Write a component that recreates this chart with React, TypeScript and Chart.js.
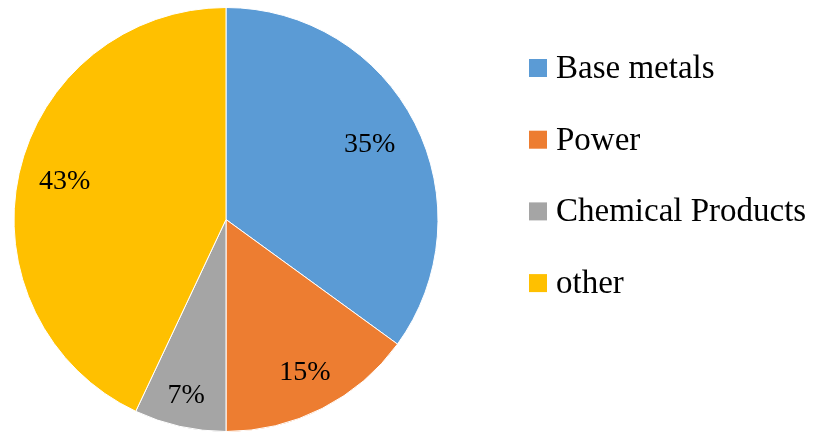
import React, { useEffect, useRef } from "react";
import { Chart, registerables } from "chart.js";

Chart.register(...registerables);

const categories = ["Base metals", "Power", "Chemical Products", "other"];
const shares = [35, 15, 7, 43];
const sliceColors = ["#5B9BD5", "#ED7D31", "#A5A5A5", "#FFC000"];
const labelRadiusFactors = [0.76, 0.82, 0.86, 0.78];

const FONT = "'Liberation Serif', 'Times New Roman', serif";

const sliceLabels = {
  id: "sliceLabels",
  afterDatasetsDraw(chart: any) {
    const ctx = chart.ctx;
    const meta = chart.getDatasetMeta(0);
    const data = chart.data.datasets[0].data as number[];
    const total = data.reduce((a, b) => a + b, 0);
    ctx.save();
    ctx.font = `28px ${FONT}`;
    ctx.fillStyle = "#000";
    ctx.textAlign = "center";
    ctx.textBaseline = "middle";
    meta.data.forEach((arc: any, i: number) => {
      const { x, y, startAngle, endAngle, outerRadius } = arc.getProps(
        ["x", "y", "startAngle", "endAngle", "outerRadius"],
        true
      );
      const mid = (startAngle + endAngle) / 2;
      const r = outerRadius * labelRadiusFactors[i];
      const pct = Math.round((data[i] / total) * 100) + "%";
      ctx.fillText(pct, x + Math.cos(mid) * r, y + Math.sin(mid) * r - 2);
    });
    ctx.restore();
  },
};

const sideLegend = {
  id: "sideLegend",
  afterDraw(chart: any) {
    const ctx = chart.ctx;
    const labels = chart.data.labels as string[];
    const colors = chart.data.datasets[0].backgroundColor as string[];
    const boxX = 529;
    const boxSize = 18;
    const firstCenter = 68;
    const step = 71.7;
    ctx.save();
    ctx.font = `33px ${FONT}`;
    ctx.textAlign = "left";
    ctx.textBaseline = "alphabetic";
    labels.forEach((lab, i) => {
      const cy = firstCenter + i * step;
      ctx.fillStyle = colors[i];
      ctx.fillRect(boxX, cy - boxSize / 2, boxSize, boxSize);
      ctx.fillStyle = "#000";
      ctx.fillText(lab, boxX + 27, cy + 10);
    });
    ctx.restore();
  },
};

export default function App() {
  const ref = useRef<HTMLCanvasElement | null>(null);
  useEffect(() => {
    if (!ref.current) return;
    const chart = new Chart(ref.current, {
      type: "pie",
      data: {
        labels: categories,
        datasets: [
          {
            data: shares,
            backgroundColor: sliceColors,
            borderColor: "#ffffff",
            borderWidth: 1,
          },
        ],
      },
      options: {
        responsive: false,
        animation: false,
        devicePixelRatio: 1,
        layout: { padding: { left: 13, top: 7, right: 379, bottom: 0 } },
        plugins: {
          legend: { display: false },
          tooltip: { enabled: false },
        },
      },
      plugins: [sliceLabels, sideLegend],
    });
    return () => chart.destroy();
  }, []);
  return (
    <div style={{ position: "absolute", left: 0, top: 0, width: 818, height: 432, background: "#fff" }}>
      <canvas ref={ref} width={818} height={432} />
    </div>
  );
}
